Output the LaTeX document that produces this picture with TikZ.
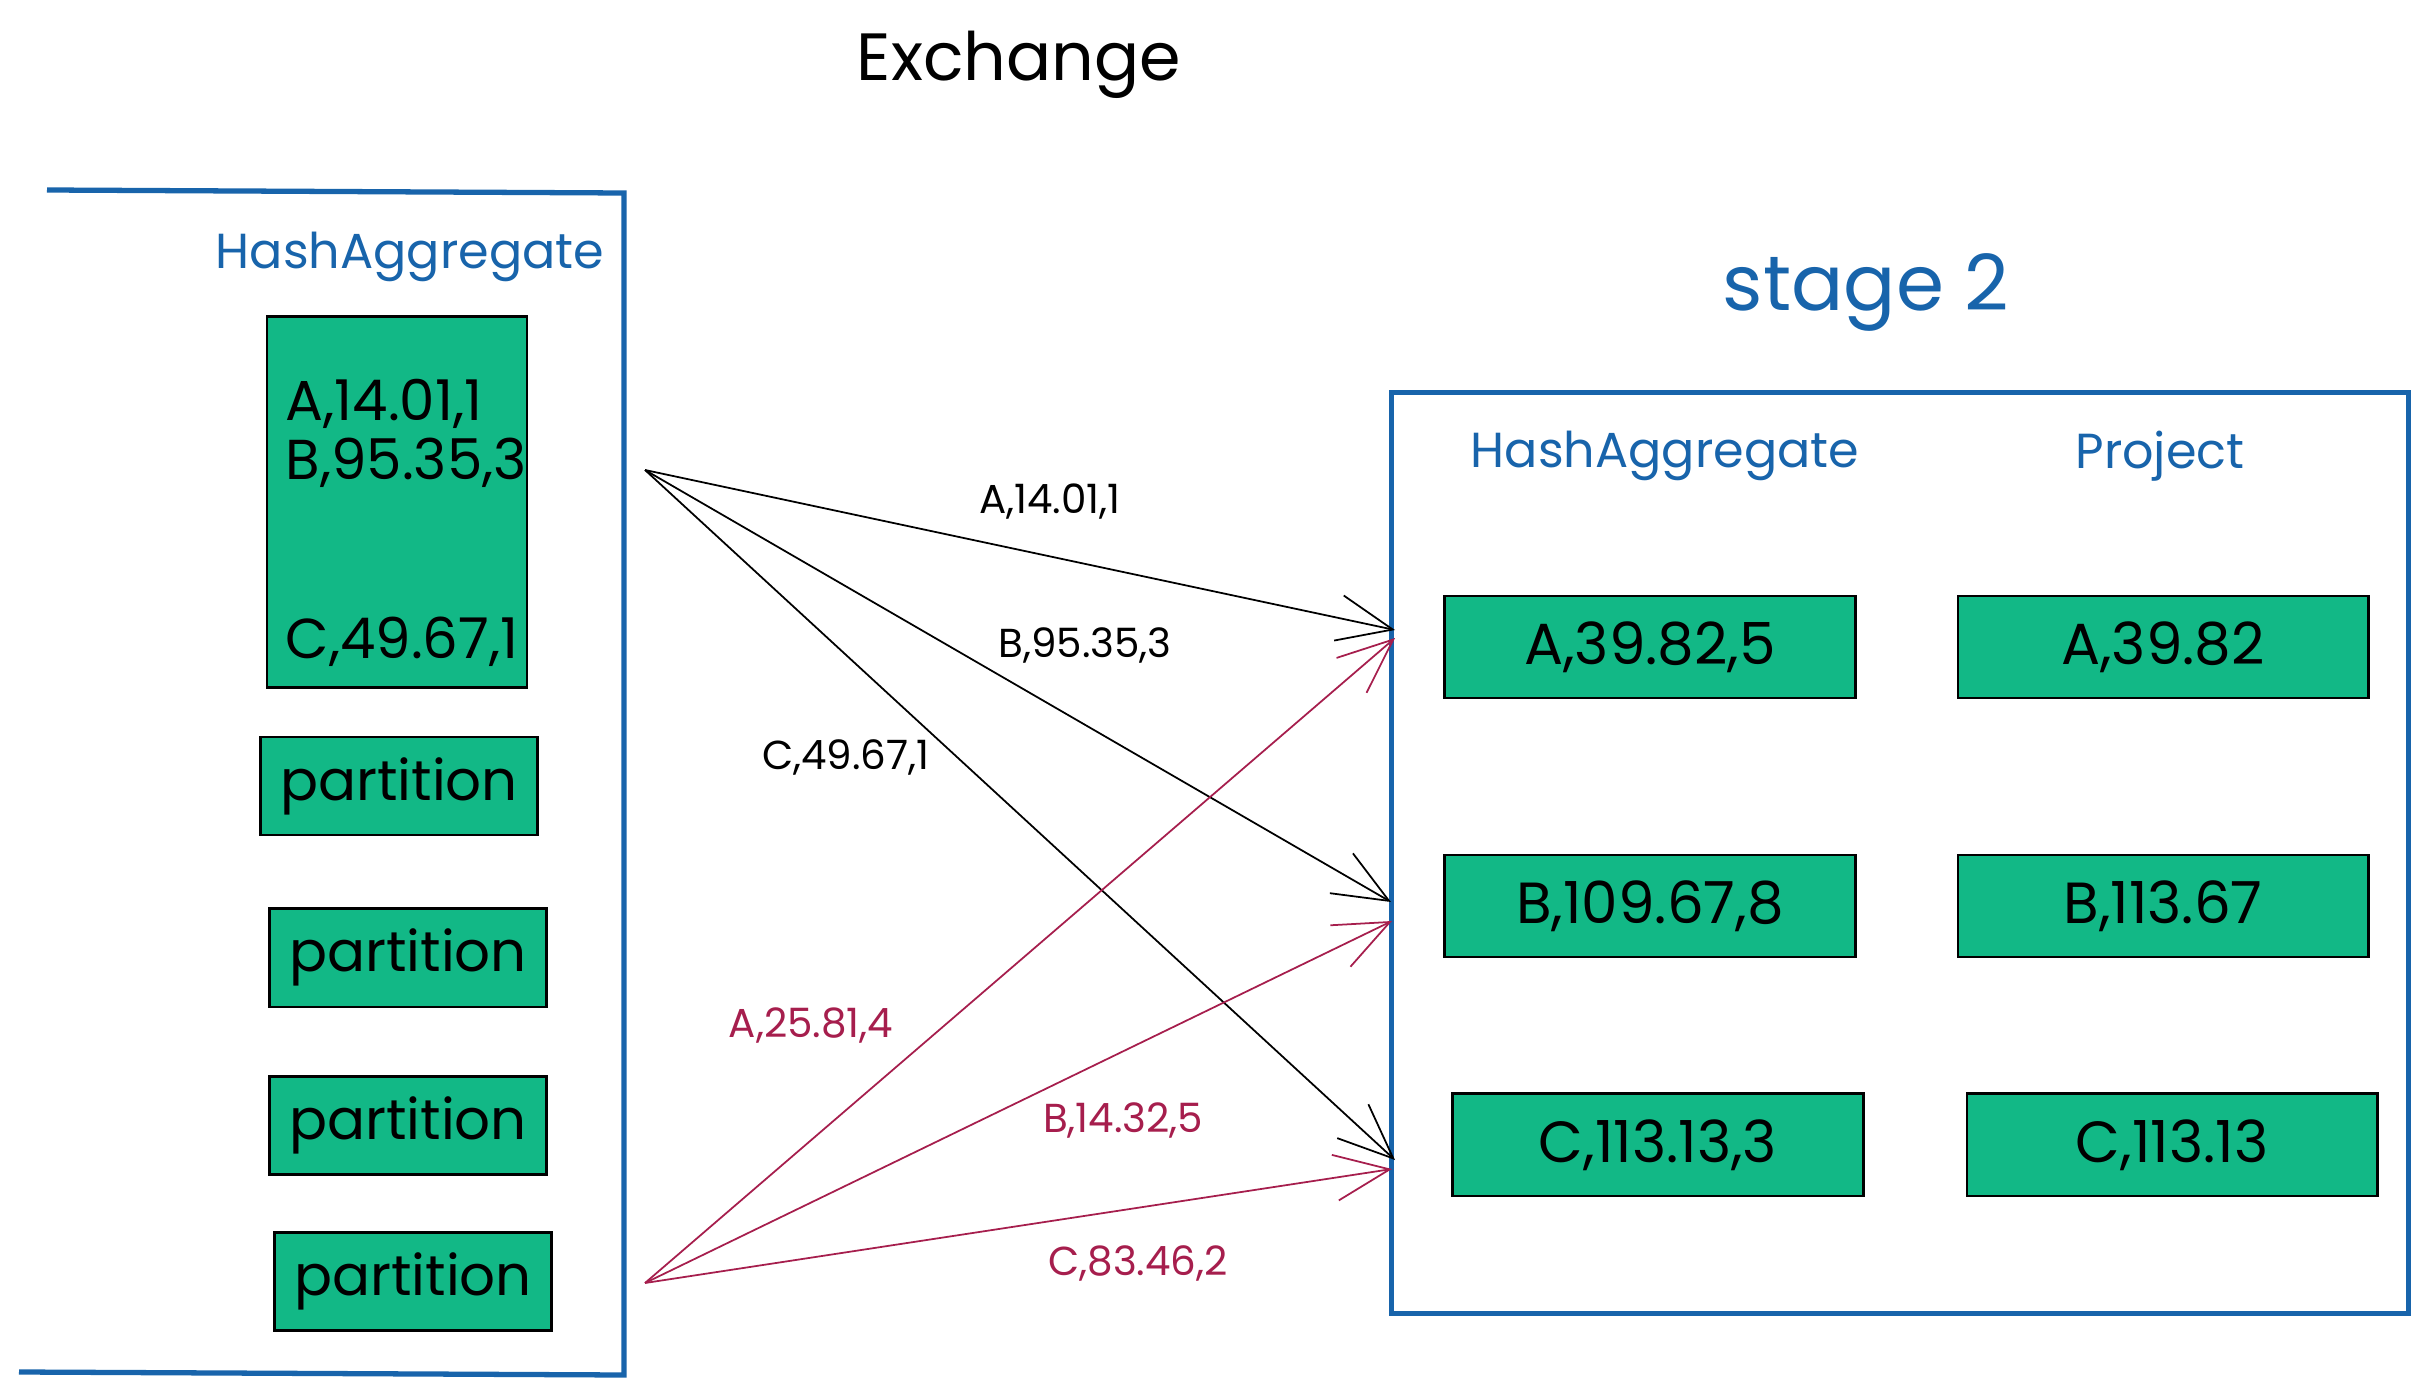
\documentclass[tikz,border=0pt]{standalone}
\usepackage{fontspec}
\setmainfont{Poppins}
\usetikzlibrary{arrows.meta, positioning}

\definecolor{xblue}{HTML}{1864AB}
\definecolor{xgreen}{HTML}{12B886}
\definecolor{xred}{HTML}{A61E4D}

\begin{document}
\begin{tikzpicture}[
    x=0.01cm, y=-0.01cm,
    cell/.style={rectangle, draw=black, line width=0.8pt, fill=xgreen, inner sep=0pt, font=\fontsize{16}{18}\selectfont},
    part/.style={cell, minimum width=2.77cm, minimum height=0.98cm},
    agg/.style={cell, minimum width=4.1cm, minimum height=1.02cm, font=\fontsize{16.5}{18}\selectfont},
    row/.style={anchor=west, inner sep=0pt, font=\fontsize{16}{18}\selectfont},
    opname/.style={text=xblue, font=\fontsize{14}{17}\selectfont},
    frame/.style={draw=xblue, line width=1.5pt},
    flow/.style={-{Straight Barb[length=5.5mm, width=4.6mm]}, line width=0.5pt},
    redflow/.style={flow, draw=xred},
    lbl/.style={font=\fontsize{11.5}{13}\selectfont},
    redlbl/.style={lbl, text=xred}
]
\useasboundingbox (0,0) rectangle (2426,1388);

\node[font=\fontsize{19}{22}\selectfont] (title) at (1019,65) {Exchange};

% Stage 1: HashAggregate output and its partitions
\draw[frame] (47,190) -- (624,193) -- (624,1375) -- (19,1372);
\node[opname] (op1) at (410,257) {HashAggregate};
\node[cell, minimum width=2.6cm, minimum height=3.7cm] (hagg) at (397,502) {};
\node[row] (rowA) at (285,404) {A,14.01,1};
\node[row] (rowB) at (285,463) {B,95.35,3};
\node[row] (rowC) at (285,642) {C,49.67,1};
\node[part, below=0.47cm of hagg, xshift=0.02cm] (p1) {partition};
\node[part, below=0.71cm of p1, xshift=0.09cm] (p2) {partition};
\node[part, below=0.67cm of p2] (p3) {partition};
\node[part, below=0.55cm of p3, xshift=0.05cm] (p4) {partition};

% Stage 2: HashAggregate and Project
\node[text=xblue, font=\fontsize{22}{25}\selectfont] (st2) at (1866,292) {stage 2};
\node[frame, minimum width=10.16cm, minimum height=9.2cm] (stage) at (1900,853) {};
\node[opname] (op2) at (1665,456) {HashAggregate};
\node[opname] (op3) at (2160,456) {Project};
\node[agg] (aggA) at (1650,647) {A,39.82,5};
\node[agg, below=1.54cm of aggA] (aggB) {B,109.67,8};
\node[agg, below=1.34cm of aggB, xshift=0.08cm] (aggC) {C,113.13,3};
\node[agg, right=1.0cm of aggA] (projA) {A,39.82};
\node[agg, right=1.0cm of aggB] (projB) {B,113.67};
\node[agg, right=1.01cm of aggC] (projC) {C,113.13};

% Shuffle end points
\coordinate (src1) at (645,470);
\coordinate (src2) at (645,1283);
\coordinate (inA) at (1395,630);
\coordinate (inB) at (1391,902);
\coordinate (inC) at (1395,1160);
\coordinate (inA2) at (1395,638);
\coordinate (inB2) at (1392,921);
\coordinate (inC2) at (1392,1169);

% Rows of the first partition
\draw[flow] (src1) -- node[lbl, pos=0.54, yshift=0.55cm] {A,14.01,1} (inA);
\draw[flow] (src1) -- node[lbl, pos=0.59, yshift=0.79cm] {B,95.35,3} (inB);
\draw[flow] (src1) -- node[lbl, pos=0.416, xshift=-1.11cm] {C,49.67,1} (inC);

% Rows of the last partition
\draw[redflow] (src2) -- node[redlbl, pos=0.4, xshift=-1.34cm] {A,25.81,4} (inA2);
\draw[redflow] (src2) -- node[redlbl, pos=0.64, yshift=-0.69cm] {B,14.32,5} (inB2);
\draw[redflow] (src2) -- node[redlbl, pos=0.66, yshift=-0.56cm] {C,83.46,2} (inC2);

\end{tikzpicture}
\end{document}
